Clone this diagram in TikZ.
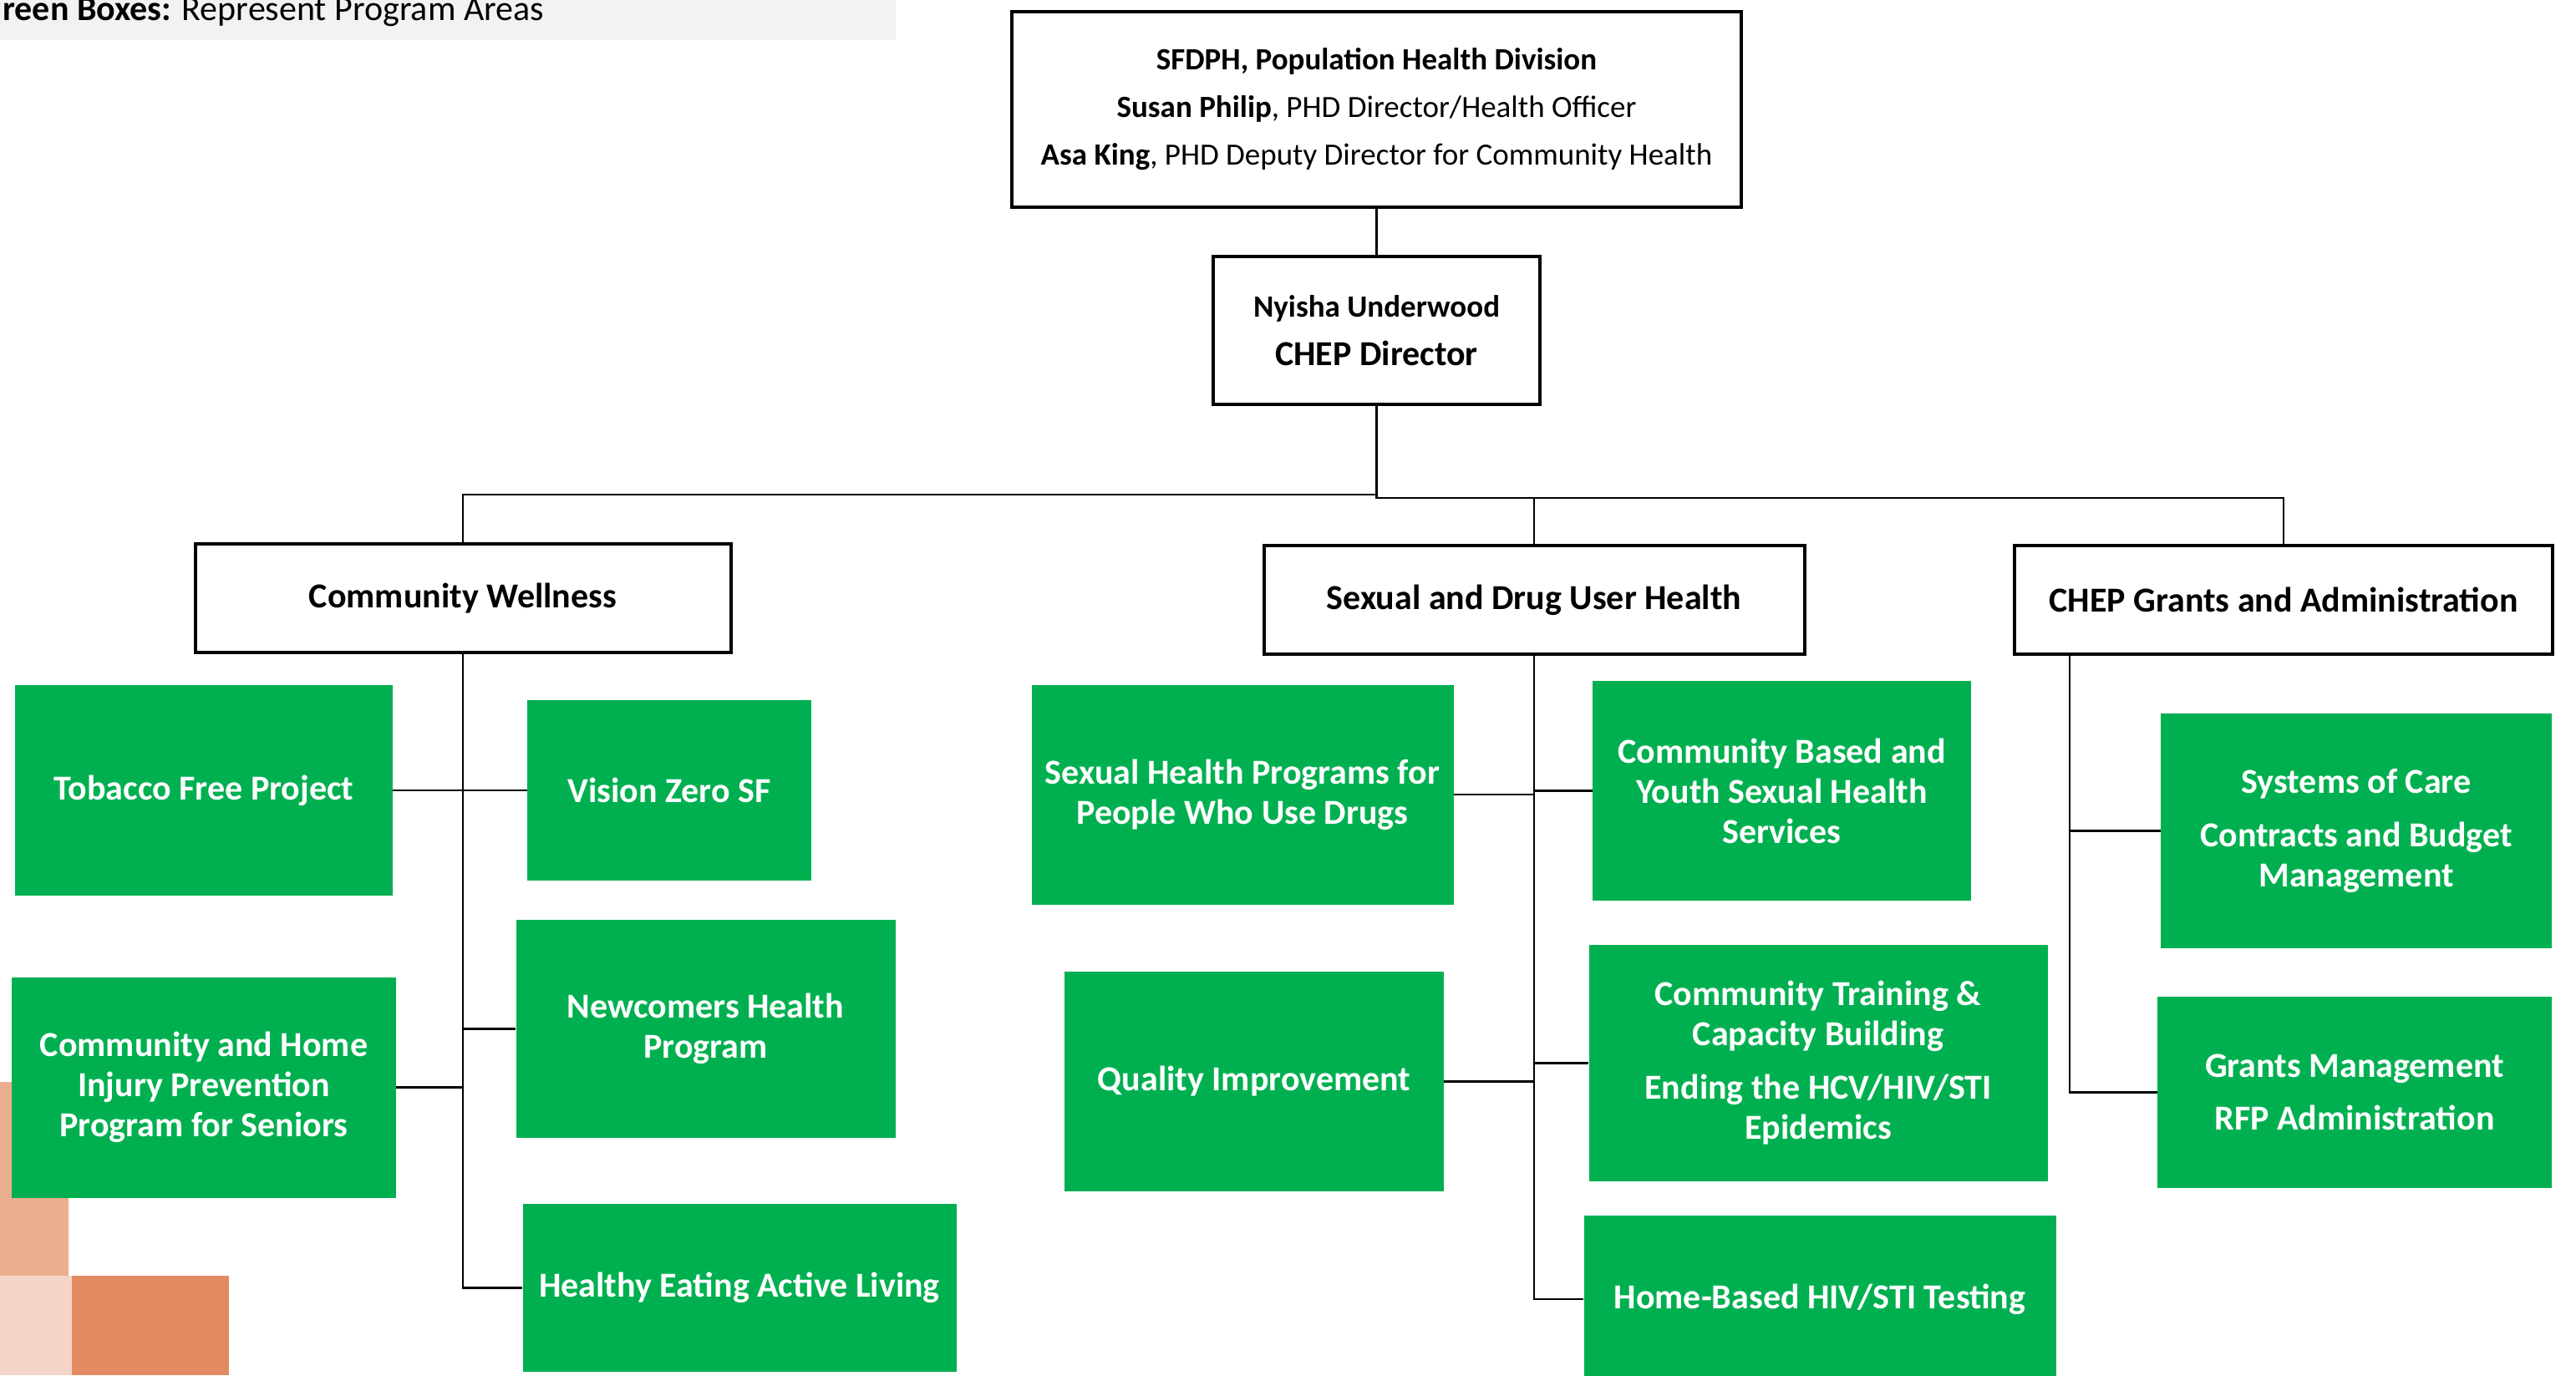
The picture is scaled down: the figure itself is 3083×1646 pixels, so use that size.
\documentclass[tikz,border=0pt]{standalone}
\usepackage{fontspec}
\setmainfont{Carlito}
\definecolor{grn}{HTML}{00B050}
\definecolor{orlight}{HTML}{EBAE8F}
\definecolor{orpale}{HTML}{F4D4C8}
\definecolor{ordark}{HTML}{E28B62}
\definecolor{leggray}{HTML}{F2F2F2}
\begin{document}
\begin{tikzpicture}[x=0.5pt,y=-0.5pt,
  whitebox/.style={draw=black, line width=2pt, fill=white, inner sep=0pt, align=center, text=black},
  greenbox/.style={fill=grn, draw=none, inner sep=0pt, align=center, text=white,
    font=\fontsize{21}{24}\selectfont\bfseries},
  conn/.style={draw=black, line width=1.4pt}]
\useasboundingbox (0,0) rectangle (3083,1646);
\clip (0,0) rectangle (3083,1646);
% legend band
\fill[leggray] (0,0) rectangle (1072,48);
\node[anchor=base west, inner sep=0pt, font=\fontsize{21}{24}\selectfont] (legend) at (3,24)
  {\textbf{reen Boxes:} Represent Program Areas};
% decorative squares
\fill[orlight] (0,1295) rectangle (82,1527);
\fill[orpale] (0,1527) rectangle (86,1646);
\fill[ordark] (86,1527) rectangle (274,1646);
% top boxes
\node[whitebox, minimum width=436.5pt, minimum height=117pt, font=\fontsize{18.5}{28.5}\selectfont] (top) at (1647.5,131)
  {\textbf{SFDPH, Population Health Division}\\
   \textbf{Susan Philip}, PHD Director/Health Officer\\
   \textbf{Asa King}, PHD Deputy Director for Community Health};
\node[whitebox, minimum width=195.5pt, minimum height=88.5pt, font=\fontsize{18.5}{26.5}\selectfont\bfseries] (dir) at (1647.5,395.5)
  {Nyisha Underwood\\[2.5pt]{\fontsize{21}{26.5}\selectfont CHEP Director}};
\node[whitebox, minimum width=320.5pt, minimum height=65pt, font=\fontsize{21}{24}\selectfont\bfseries] (cw) at (554,716) {Community Wellness};
\node[whitebox, minimum width=323.5pt, minimum height=65pt, font=\fontsize{21}{24}\selectfont\bfseries] (sduh) at (1836,718) {Sexual and Drug User Health};
\node[whitebox, minimum width=322pt, minimum height=65pt, font=\fontsize{21}{24}\selectfont\bfseries] (grants) at (2733,718) {CHEP Grants and Administration};
% green boxes
\node[greenbox, minimum width=226pt, minimum height=126pt] (tob) at (244,946) {Tobacco Free Project};
\node[greenbox, minimum width=170pt, minimum height=108pt] (vz) at (801,946) {Vision Zero SF};
\node[greenbox, minimum width=227pt, minimum height=130.5pt] (new) at (844.5,1231.5) {Newcomers Health\\Program};
\node[greenbox, minimum width=230pt, minimum height=132pt] (inj) at (244,1301.5) {Community and Home\\Injury Prevention\\Program for Seniors};
\node[greenbox, minimum width=259.5pt, minimum height=100.5pt] (heal) at (885,1541.5) {Healthy Eating Active Living};
\node[greenbox, minimum width=252.5pt, minimum height=131.5pt] (shp) at (1487,951) {Sexual Health Programs for\\People Who Use Drugs};
\node[greenbox, minimum width=226.5pt, minimum height=131.5pt] (cby) at (2132.5,946.5) {Community Based and\\Youth Sexual Health\\Services};
\node[greenbox, minimum width=227pt, minimum height=131.5pt] (qi) at (1501,1294.5) {Quality Improvement};
\node[greenbox, minimum width=274.5pt, minimum height=141.5pt] (ctc) at (2176,1272.5) {Community Training \&\\Capacity Building\\[8pt]Ending the HCV/HIV/STI\\Epidemics};
\node[greenbox, minimum width=282.5pt, minimum height=100pt] (hb) at (2178,1555) {Home-Based HIV/STI Testing};
\node[greenbox, minimum width=234pt, minimum height=140.5pt] (soc) at (2820,994.5) {Systems of Care\\[8pt]Contracts and Budget\\Management};
\node[greenbox, minimum width=236pt, minimum height=114.5pt] (gm) at (2818,1307.5) {Grants Management\\[7.5pt]RFP Administration};
% junction coordinates
\coordinate (j1) at (1647.5,592);
\coordinate (j2) at (1647.5,596);
\coordinate (gtop) at (2477,783);
% connectors
\draw[conn] (top.south) -- (dir.north);
\draw[conn] (dir.south) -- (j1) -| (cw.north);
\draw[conn] (j1) -- (j2) -| (grants.north);
\draw[conn] (sduh.north |- j2) -- (sduh.north);
% community wellness
\draw[conn] (cw.south) -- (cw.south |- heal.west) -- (heal.west);
\draw[conn] (tob.east) -- (vz.west);
\draw[conn] (cw.south |- new.west) -- (new.west);
\draw[conn] (inj.east) -- (inj.east -| cw.south);
% sexual and drug user health
\draw[conn] (sduh.south) -- (sduh.south |- hb.west) -- (hb.west);
\draw[conn] (shp.east) -- (shp.east -| sduh.south);
\draw[conn] (sduh.south |- cby.west) -- (cby.west);
\draw[conn] (qi.east) -- (qi.east -| sduh.south);
\draw[conn] (sduh.south |- ctc.west) -- (ctc.west);
% grants
\draw[conn] (gtop) -- (gtop |- gm.west) -- (gm.west);
\draw[conn] (gtop |- soc.west) -- (soc.west);
\end{tikzpicture}
\end{document}
